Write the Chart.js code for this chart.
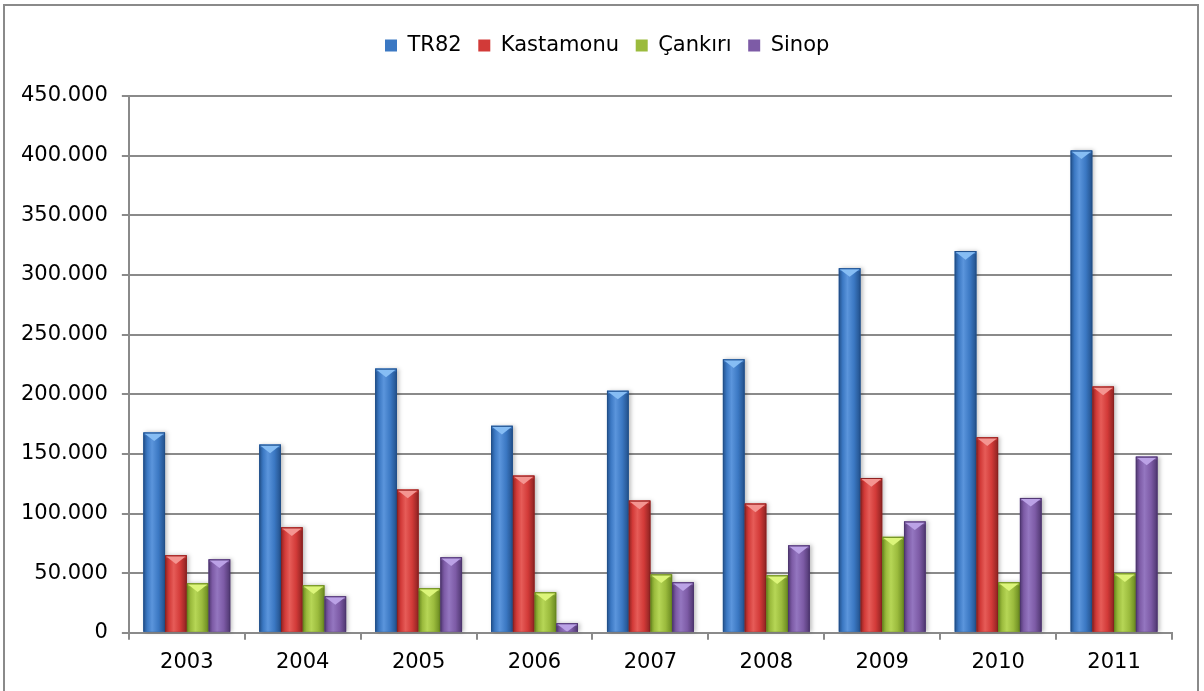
<!DOCTYPE html>
<html>
<head>
<meta charset="utf-8">
<script src="https://cdn.jsdelivr.net/npm/chart.js@4/dist/chart.umd.min.js"></script>
<style>
  body { margin: 0; background: #fff; }
  #wrap { position: relative; width: 1204px; height: 691px; }
  #frame { position: absolute; left: 3px; top: 4px; width: 1196px; height: 690px; border: 2px solid #8a8a8a; box-sizing: border-box; }
  canvas { position: absolute; left: 0; top: 0; }
</style>
</head>
<body>
<div id="wrap">
  <div id="frame"></div>
  <canvas id="chart" width="1204" height="691"></canvas>
</div>
<script>
const years = ["2003", "2004", "2005", "2006", "2007", "2008", "2009", "2010", "2011"];
const tr82 = [168000, 157800, 221500, 173600, 203000, 229300, 305700, 320000, 404400];
const kastamonu = [65000, 88400, 120100, 131800, 110900, 108400, 129800, 163900, 206500];
const cankiri = [41500, 39900, 37400, 34000, 49000, 48200, 80500, 42400, 49900];
const sinop = [61600, 30700, 63300, 8100, 42400, 73300, 93400, 113100, 147700];

// base, dark edge, light, top cap
const palette = [
    ["#3b78c3", "#22508a", "#5b95dc", "#86bdf4"],
    ["#d23a38", "#8c2221", "#e65c58", "#f49591"],
    ["#9bbb3d", "#68881f", "#b6d656", "#dcf57a"],
    ["#7d5ba6", "#4e366f", "#9476c0", "#bba2e6"]
];

function fmt(v) {
    return String(v).replace(/\B(?=(\d{3})+(?!\d))/g, ".");
}

// paint the bevelled look over the bars Chart.js has laid out
const bevelBars = {
    id: "bevelBars",
    afterDatasetsDraw(chart) {
        const ctx = chart.ctx;
        chart.data.datasets.forEach((ds, i) => {
            const meta = chart.getDatasetMeta(i);
            const c = palette[i];
            meta.data.forEach(bar => {
                const w = bar.width;
                const left = bar.x - w / 2;
                const top = bar.y;
                const h = bar.base - bar.y;
                if (h <= 0) return;
                ctx.save();
                ctx.shadowColor = "rgba(0,0,0,0.25)";
                ctx.shadowBlur = 4;
                ctx.shadowOffsetX = 2;
                const g = ctx.createLinearGradient(left, 0, left + w, 0);
                g.addColorStop(0, c[1]);
                g.addColorStop(0.18, c[0]);
                g.addColorStop(0.4, c[2]);
                g.addColorStop(0.7, c[0]);
                g.addColorStop(1, c[1]);
                ctx.fillStyle = g;
                ctx.fillRect(left, top, w, h);
                ctx.restore();
                // top cap
                const capH = Math.min(w * 0.4, h);
                ctx.save();
                ctx.beginPath();
                ctx.rect(left, top, w, h);
                ctx.clip();
                ctx.fillStyle = c[0];
                ctx.fillRect(left, top, w, Math.min(3, h));
                ctx.beginPath();
                ctx.moveTo(left + 1, top + 1);
                ctx.lineTo(left + w - 1, top + 1);
                ctx.lineTo(left + w / 2, top + capH);
                ctx.closePath();
                ctx.fillStyle = c[3];
                ctx.fill();
                ctx.strokeStyle = c[1];
                ctx.lineWidth = 1;
                ctx.strokeRect(left + 0.5, top + 0.5, w - 1, h);
                ctx.restore();
            });
        });
    }
};

const legendSpace = {
    id: "legendSpace",
    beforeInit(chart) {
        const fit = chart.legend.fit;
        chart.legend.fit = function () {
            fit.bind(chart.legend)();
            this.height += 30;
        };
    },
    afterLayout(chart) {
        // legend sits a little right of the canvas centre in the original
        chart.legend.left += 42;
    }
};

const font = { family: "'DejaVu Sans', Verdana, sans-serif", size: 21 };

new Chart(document.getElementById("chart"), {
    type: "bar",
    data: {
        labels: years,
        datasets: [
            { label: "TR82", data: tr82, backgroundColor: palette[0][0] },
            { label: "Kastamonu", data: kastamonu, backgroundColor: palette[1][0] },
            { label: "Çankırı", data: cankiri, backgroundColor: palette[2][0] },
            { label: "Sinop", data: sinop, backgroundColor: palette[3][0] }
        ]
    },
    options: {
        responsive: false,
        animation: false,
        layout: { padding: { left: 7, right: 32, top: 25, bottom: 6 } },
        datasets: { bar: { categoryPercentage: 0.75, barPercentage: 1 } },
        plugins: {
            tooltip: { enabled: false },
            legend: {
                position: "top",
                labels: {
                    color: "#000",
                    font: font,
                    boxWidth: 12,
                    boxHeight: 12,
                    padding: 10,
                    generateLabels(chart) {
                        return Chart.defaults.plugins.legend.labels.generateLabels(chart)
                            .map(l => Object.assign(l, { text: l.text + " ", lineWidth: 0 }));
                    }
                }
            }
        },
        scales: {
            x: {
                grid: { display: true, drawOnChartArea: false, drawTicks: true, tickLength: 7, color: "#8a8a8a", lineWidth: 2 },
                border: { display: true, color: "#8a8a8a", width: 2 },
                ticks: { color: "#000", font: font, padding: 10 }
            },
            y: {
                min: 0,
                max: 450000,
                grid: { color: "#8a8a8a", lineWidth: 2, tickLength: 7 },
                border: { display: true, color: "#8a8a8a", width: 2 },
                ticks: { stepSize: 50000, color: "#000", font: font, padding: 14, callback: v => fmt(v) }
            }
        }
    },
    plugins: [legendSpace, bevelBars]
});
</script>
</body>
</html>
